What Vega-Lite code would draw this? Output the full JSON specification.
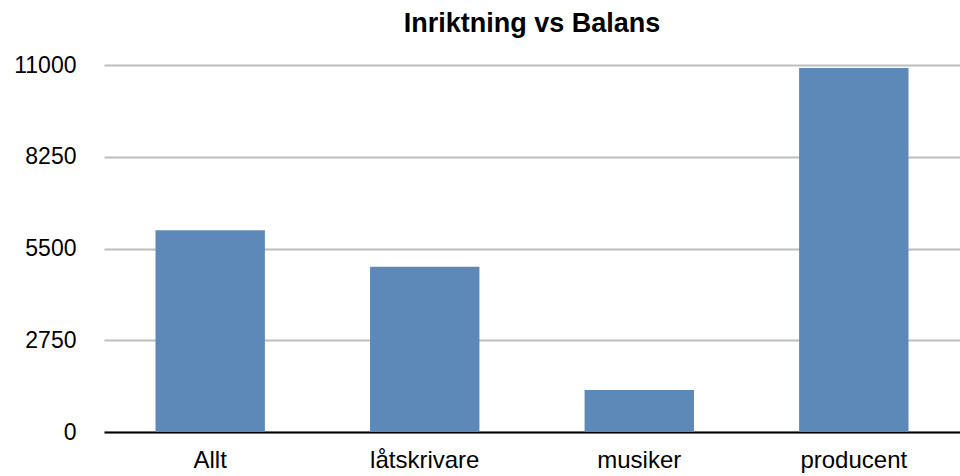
{
  "$schema": "https://vega.github.io/schema/vega-lite/v6.json",
  "autosize": {"type": "none"},
  "width": 856,
  "height": 367,
  "padding": {"left": 104, "top": 65, "right": 0, "bottom": 44},
  "background": "white",
  "title": {
    "text": "Inriktning vs Balans",
    "font": "Liberation Sans",
    "fontSize": 27,
    "fontWeight": "bold",
    "color": "#000000",
    "anchor": "middle",
    "frame": "group",
    "baseline": "alphabetic",
    "offset": -5
  },
  "data": {
    "values": [
      {"Inriktning": "Allt", "Balans": 6050},
      {"Inriktning": "låtskrivare", "Balans": 4950},
      {"Inriktning": "musiker", "Balans": 1260},
      {"Inriktning": "producent", "Balans": 10910}
    ]
  },
  "mark": {"type": "bar", "color": "#5d89b9"},
  "encoding": {
    "x": {
      "field": "Inriktning",
      "type": "nominal",
      "sort": null,
      "scale": {"paddingInner": 0.49, "paddingOuter": 0.24},
      "axis": {
        "title": null,
        "labelAngle": 0,
        "labelFont": "Liberation Sans",
        "labelFontSize": 24,
        "labelColor": "#000000",
        "labelBaseline": "alphabetic",
        "labelPadding": 35,
        "ticks": false,
        "tickSize": 0,
        "domainColor": "#000000",
        "domainWidth": 2,
        "grid": false
      }
    },
    "y": {
      "field": "Balans",
      "type": "quantitative",
      "scale": {"domain": [0, 11000], "nice": false},
      "axis": {
        "title": null,
        "format": "d",
        "values": [0, 2750, 5500, 8250, 11000],
        "labelFont": "Liberation Sans",
        "labelFontSize": 23,
        "labelColor": "#000000",
        "labelPadding": 28,
        "ticks": false,
        "tickSize": 0,
        "domain": false,
        "grid": true,
        "gridColor": "#bdbdbd",
        "gridWidth": 2
      }
    }
  },
  "config": {"view": {"stroke": null}}
}
